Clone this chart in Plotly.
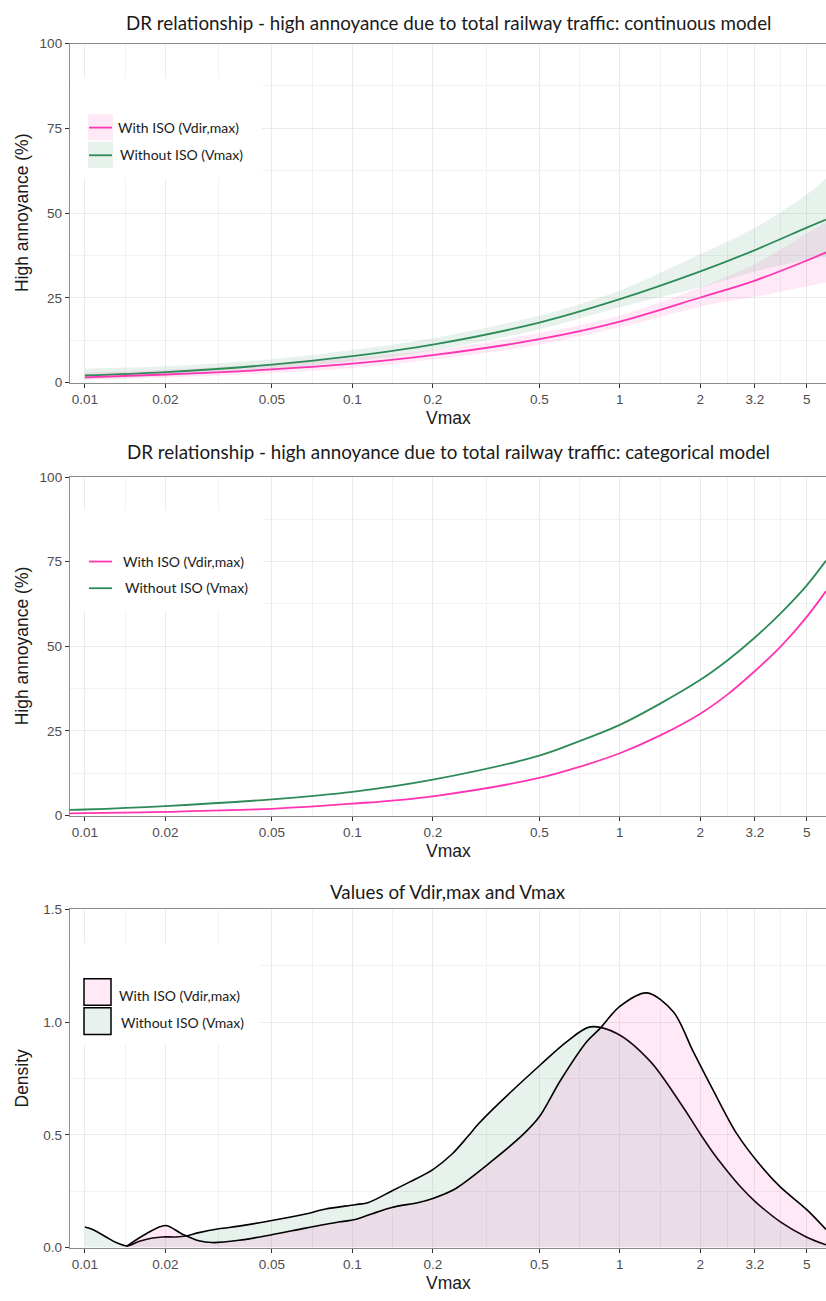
import math
import plotly.graph_objects as go

W, H = 826, 1301

# Shared log-scaled Vmax axis
x_ticks = [0.01, 0.02, 0.05, 0.1, 0.2, 0.5, 1, 2, 3.2, 5]
x_tick_labels = ["0.01", "0.02", "0.05", "0.1", "0.2", "0.5", "1", "2", "3.2", "5"]
x_minor = [math.sqrt(a * b) for a, b in zip(x_ticks[:-1], x_ticks[1:])]
x_min, x_max = 0.0088, 5.9

# Panel 1: continuous model (prediction and 95% band, % highly annoyed)
cont_v = [0.01, 0.02, 0.05, 0.1, 0.2, 0.5, 1, 2, 3.2, 5, 5.9]
cont_iso = [1.55, 2.4, 3.9, 5.6, 8.1, 12.8, 18.0, 25.1, 30.1, 36.0, 38.4]
cont_iso_lo = [0.8, 1.5, 2.8, 4.3, 6.8, 11.2, 16.3, 22.4, 25.3, 28.4, 29.5]
cont_iso_hi = [3.0, 3.8, 5.5, 7.3, 9.6, 14.6, 19.8, 28.1, 35.0, 44.0, 47.3]
cont_vmax = [2.1, 3.1, 5.3, 7.8, 11.2, 17.7, 24.6, 32.8, 39.1, 45.7, 48.1]
cont_vmax_lo = [1.0, 1.9, 3.9, 6.3, 9.5, 15.7, 22.2, 28.1, 32.8, 36.2, 37.0]
cont_vmax_hi = [4.1, 4.8, 6.9, 9.6, 13.1, 19.8, 27.2, 37.9, 45.7, 55.5, 60.2]

# Panel 2: categorical model
cat_v = [0.0088, 0.01, 0.02, 0.05, 0.1, 0.2, 0.5, 0.707, 1, 1.41, 2, 2.53, 3.2, 4, 5, 5.9]
cat_iso = [0.65, 0.7, 1.1, 2.0, 3.5, 5.7, 11.1, 14.4, 18.4, 23.6, 30.1, 35.8, 42.7, 50.0, 58.7, 66.3]
cat_vmax = [1.7, 1.8, 2.8, 4.8, 7.0, 10.6, 17.7, 22.0, 26.8, 33.0, 40.1, 45.9, 52.6, 59.8, 68.0, 75.3]

# Panel 3: density of Vmax (without ISO) and Vdir,max (with ISO)
dens_vmax_x = [0.01, 0.0107, 0.012, 0.0131, 0.0144, 0.016, 0.0179, 0.0195, 0.0219, 0.0238,
               0.0267, 0.0317, 0.0377, 0.05, 0.0668, 0.0794, 0.1025, 0.115, 0.14, 0.162,
               0.2, 0.236, 0.269, 0.297, 0.357, 0.504, 0.634, 0.775, 0.975, 1.3, 1.73,
               2.0, 2.25, 2.52, 2.85, 3.2, 3.97, 5.0, 5.9]
dens_vmax_y = [0.091, 0.08, 0.047, 0.022, 0.007, 0.028, 0.042, 0.047, 0.047, 0.051,
               0.066, 0.083, 0.095, 0.12, 0.149, 0.171, 0.19, 0.2, 0.25, 0.288,
               0.346, 0.415, 0.49, 0.55, 0.645, 0.81, 0.914, 0.979, 0.95, 0.826, 0.62,
               0.504, 0.415, 0.34, 0.265, 0.205, 0.115, 0.046, 0.012]
dens_iso_x = [0.0143, 0.0169, 0.02, 0.0231, 0.0267, 0.0299, 0.0377, 0.05, 0.0668, 0.0889,
              0.1025, 0.118, 0.1406, 0.177, 0.2, 0.242, 0.332, 0.437, 0.5, 0.599, 0.753,
              0.84, 1.0, 1.26, 1.585, 1.88, 2.24, 2.74, 3.3, 3.97, 5.0, 5.9]
dens_iso_y = [0.005, 0.06, 0.098, 0.06, 0.03, 0.022, 0.032, 0.057, 0.086, 0.113,
              0.124, 0.149, 0.178, 0.2, 0.218, 0.26, 0.383, 0.504, 0.58, 0.74, 0.914,
              0.97, 1.07, 1.13, 1.046, 0.87, 0.695, 0.504, 0.375, 0.27, 0.168, 0.08]

label_iso = "With ISO (Vdir,max)"
label_vmax = "Without ISO (Vmax)"

PINK = "#FF34B3"
GREEN = "#2E8B57"
PINK_FILL = "rgba(255,52,179,0.11)"
GREEN_FILL = "rgba(46,139,87,0.11)"
TITLE_FONT = "Lato, 'Open Sans', sans-serif"
AXIS_FONT = "'Liberation Sans', Arial, sans-serif"

# panel vertical extents in pixels: (top, bottom)
panels = {1: (37, 380), 2: (475.5, 818), 3: (913, 1255)}


def px(x):
    return x / W


def py(y):
    return 1 - y / H


fig = go.Figure()


def band(xs, lo, hi, fill, xa, ya):
    fig.add_trace(go.Scatter(x=xs, y=lo, mode="lines", line=dict(width=0, shape="spline"),
                             hoverinfo="skip", showlegend=False, xaxis=xa, yaxis=ya))
    fig.add_trace(go.Scatter(x=xs, y=hi, mode="lines", line=dict(width=0, shape="spline"),
                             fill="tonexty", fillcolor=fill, hoverinfo="skip",
                             showlegend=False, xaxis=xa, yaxis=ya))


def curve(xs, ys, color, name, xa, ya):
    fig.add_trace(go.Scatter(x=xs, y=ys, mode="lines", name=name,
                             line=dict(color=color, width=1.8, shape="spline"),
                             showlegend=False, xaxis=xa, yaxis=ya))


# Panel 1
band(cont_v, cont_iso_lo, cont_iso_hi, PINK_FILL, "x", "y")
band(cont_v, cont_vmax_lo, cont_vmax_hi, GREEN_FILL, "x", "y")
curve(cont_v, cont_vmax, GREEN, label_vmax, "x", "y")
curve(cont_v, cont_iso, PINK, label_iso, "x", "y")

# Panel 2
curve(cat_v, cat_vmax, GREEN, label_vmax, "x2", "y2")
curve(cat_v, cat_iso, PINK, label_iso, "x2", "y2")

# Panel 3
fig.add_trace(go.Scatter(x=dens_vmax_x, y=dens_vmax_y, mode="lines", name=label_vmax,
                         fill="tozeroy", fillcolor=GREEN_FILL,
                         line=dict(color="black", width=1.6, shape="spline", smoothing=0.9),
                         showlegend=False, xaxis="x3", yaxis="y3"))
fig.add_trace(go.Scatter(x=dens_iso_x, y=dens_iso_y, mode="lines", name=label_iso,
                         fill="tozeroy", fillcolor=PINK_FILL,
                         line=dict(color="black", width=1.6, shape="spline", smoothing=0.9),
                         showlegend=False, xaxis="x3", yaxis="y3"))

tick_font = dict(family=AXIS_FONT, size=13.5, color="#4D4D4D")


def xaxis_cfg(anchor):
    return dict(type="log", range=[math.log10(x_min), math.log10(x_max)],
                domain=[px(70), 1], anchor=anchor,
                tickmode="array", tickvals=x_ticks, ticktext=x_tick_labels,
                ticks="outside", ticklen=4, tickwidth=1, tickcolor="#333333",
                tickfont=tick_font,
                showline=True, linecolor="#8C8C8C", linewidth=1.3, mirror=True,
                showgrid=True, gridcolor="#EBEBEB", gridwidth=1.4,
                minor=dict(tickvals=x_minor, showgrid=True, gridcolor="#F2F2F2",
                           gridwidth=0.9, ticks=""),
                zeroline=False)


def yaxis_cfg(anchor, top, bottom, rng, vals, texts, minor):
    return dict(range=rng, domain=[py(bottom), py(top)], anchor=anchor,
                tickmode="array", tickvals=vals, ticktext=texts,
                ticks="outside", ticklen=4, tickwidth=1, tickcolor="#333333",
                tickfont=tick_font,
                showline=True, linecolor="#8C8C8C", linewidth=1.3,
                showgrid=True, gridcolor="#EBEBEB", gridwidth=1.4,
                minor=dict(tickvals=minor, showgrid=True, gridcolor="#F2F2F2",
                           gridwidth=0.9, ticks=""),
                zeroline=False)


pct_ticks = [0, 25, 50, 75, 100]
pct_labels = ["0", "25", "50", "75", "100"]
pct_minor = [12.5, 37.5, 62.5, 87.5]
dens_ticks = [0, 0.5, 1.0, 1.5]
dens_labels = ["0.0", "0.5", "1.0", "1.5"]
dens_minor = [0.25, 0.75, 1.25]

fig.update_layout(
    width=W, height=H,
    margin=dict(l=0, r=0, t=0, b=0),
    paper_bgcolor="white", plot_bgcolor="white",
    showlegend=False,
    xaxis=xaxis_cfg("y"),
    xaxis2=xaxis_cfg("y2"),
    xaxis3=xaxis_cfg("y3"),
    yaxis=yaxis_cfg("x", *panels[1], [0, 100], pct_ticks, pct_labels, pct_minor),
    yaxis2=yaxis_cfg("x2", *panels[2], [0, 100], pct_ticks, pct_labels, pct_minor),
    yaxis3=yaxis_cfg("x3", *panels[3], [0, 1.5], dens_ticks, dens_labels, dens_minor),
)

annotations = []
shapes = []


def text(t, x, y, size, family, xanchor="center", angle=0, color="#1A1A1A"):
    annotations.append(dict(text=t, x=px(x), y=py(y), xref="paper", yref="paper",
                            xanchor=xanchor, yanchor="middle", showarrow=False,
                            textangle=angle, font=dict(family=family, size=size, color=color)))


def rect(x0, y0, x1, y1, fill, line_color=None, line_width=0):
    shapes.append(dict(type="rect", xref="paper", yref="paper", layer="above",
                       x0=px(x0), x1=px(x1), y0=py(y1), y1=py(y0), fillcolor=fill,
                       line=dict(color=line_color or "rgba(0,0,0,0)", width=line_width)))


def hline(x0, x1, y, color):
    shapes.append(dict(type="line", xref="paper", yref="paper", layer="above",
                       x0=px(x0), x1=px(x1), y0=py(y), y1=py(y),
                       line=dict(color=color, width=1.8)))


# Panel titles
TITLE_SIZE = 18.8
text("DR relationship - high annoyance due to total railway traffic: continuous model",
     448, 16, TITLE_SIZE, TITLE_FONT)
text("DR relationship - high annoyance due to total railway traffic: categorical model",
     448, 450, TITLE_SIZE, TITLE_FONT)
text("Values of Vdir,max and Vmax", 448, 895, TITLE_SIZE, TITLE_FONT)

# Axis titles
for i, (top, bottom) in panels.items():
    text("Vmax", 448, bottom + 36, 17.5, AXIS_FONT)
    ytitle = "Density" if i == 3 else "High annoyance (%)"
    text(ytitle, 22, (top + bottom) / 2, 17.5, AXIS_FONT, angle=-90)

LEG_FONT = TITLE_FONT
LEG_SIZE = 14

# Legend, panel 1 (line over band key)
rect(71, 72, 262, 173, "white")
rect(88, 108.5, 113, 135, PINK_FILL)
rect(88, 136.5, 113, 163, GREEN_FILL)
hline(89, 112, 122, PINK)
hline(89, 112, 150, GREEN)
text(label_iso, 116, 121.5, LEG_SIZE, LEG_FONT, xanchor="left")
text(label_vmax, 118, 149.5, LEG_SIZE, LEG_FONT, xanchor="left")

# Legend, panel 2 (line key)
rect(71, 509, 263, 611, "white")
hline(89, 112, 561, PINK)
hline(89, 112, 588, GREEN)
text(label_iso, 120.5, 560.5, LEG_SIZE, LEG_FONT, xanchor="left")
text(label_vmax, 122.5, 587.5, LEG_SIZE, LEG_FONT, xanchor="left")

# Legend, panel 3 (filled square key)
rect(71, 947, 260, 1049, "white")
rect(84, 983, 111, 1010, PINK_FILL, "black", 1.5)
rect(84, 1012.5, 111, 1039.5, GREEN_FILL, "black", 1.5)
text(label_iso, 117, 1000.5, LEG_SIZE, LEG_FONT, xanchor="left")
text(label_vmax, 119, 1027.5, LEG_SIZE, LEG_FONT, xanchor="left")

fig.update_layout(annotations=annotations, shapes=shapes)

fig.write_html("out.html")
